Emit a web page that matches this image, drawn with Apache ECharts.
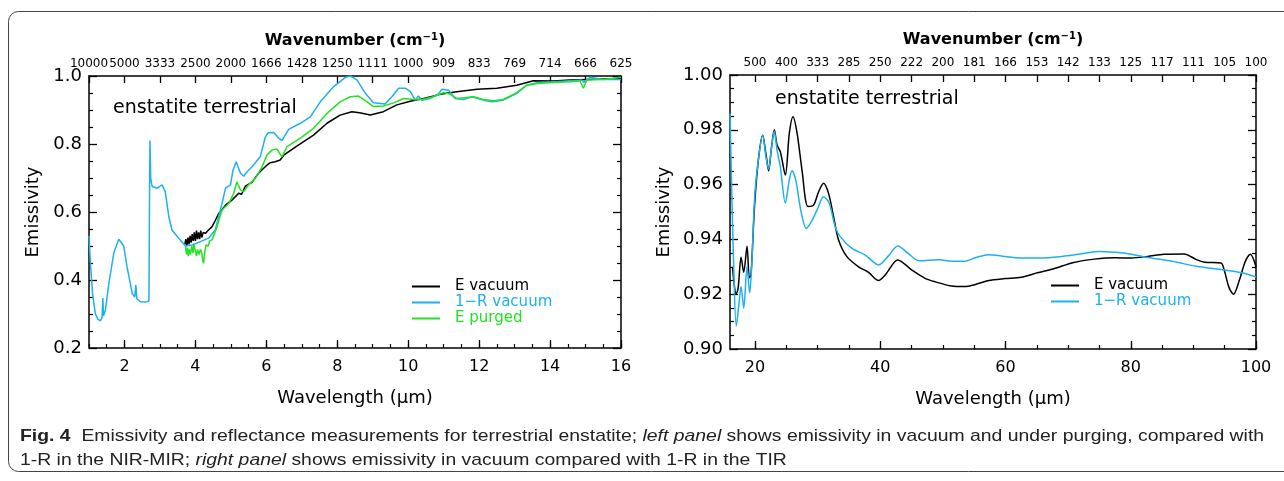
<!DOCTYPE html>
<html>
<head>
<meta charset="utf-8">
<script src="https://cdn.jsdelivr.net/npm/echarts@6/dist/echarts.min.js"></script>
<style>
  html, body { margin: 0; padding: 0; background: #fff; }
  #chart { width: 1284px; height: 481px; }
</style>
</head>
<body>
<div id="chart"></div>
<script>
  // left panel: NIR-MIR, wavelength (um) vs emissivity
  var leftVacuumE = [
    [3.70,0.505],[3.73,0.52],[3.76,0.50],[3.79,0.525],[3.82,0.505],[3.85,0.53],[3.88,0.51],[3.91,0.535],
    [3.94,0.515],[3.97,0.54],[4.00,0.515],[4.03,0.545],[4.06,0.52],[4.09,0.54],[4.12,0.52],[4.15,0.545],
    [4.18,0.525],[4.22,0.54],[4.28,0.537],[4.35,0.545],[4.47,0.557],[4.56,0.575],[4.66,0.596],[4.85,0.62],
    [5.03,0.635],[5.22,0.655],[5.30,0.652],[5.41,0.676],[5.60,0.688],[5.78,0.714],[6.02,0.738],[6.11,0.745],
    [6.25,0.748],[6.39,0.753],[6.49,0.767],[6.86,0.794],[7.33,0.826],[7.71,0.861],[8.08,0.885],[8.41,0.895],
    [8.63,0.892],[8.93,0.885],[9.30,0.895],[9.68,0.915],[10.06,0.926],[10.43,0.934],[10.90,0.946],[11.37,0.954],
    [11.94,0.961],[12.50,0.964],[13.06,0.973],[13.53,0.986],[14.09,0.985],[14.56,0.988],[15.03,0.99],[16.0,0.993]
  ];
  var leftVacuumR = [
    [1.00,0.53],[1.04,0.45],[1.10,0.36],[1.18,0.30],[1.25,0.285],[1.32,0.28],[1.37,0.29],[1.39,0.347],
    [1.41,0.295],[1.46,0.31],[1.56,0.39],[1.70,0.48],[1.84,0.52],[1.98,0.50],[2.07,0.44],[2.22,0.36],
    [2.29,0.35],[2.32,0.385],[2.35,0.345],[2.45,0.336],[2.60,0.335],[2.69,0.338],[2.71,0.70],[2.72,0.81],
    [2.74,0.70],[2.78,0.675],[2.92,0.67],[3.06,0.68],[3.15,0.66],[3.25,0.586],[3.34,0.547],[3.53,0.523],
    [3.72,0.50],[3.91,0.503],[4.14,0.513],[4.37,0.523],[4.56,0.547],[4.75,0.625],[4.85,0.67],[4.99,0.68],
    [5.06,0.723],[5.15,0.748],[5.27,0.714],[5.36,0.705],[5.47,0.72],[5.60,0.733],[5.83,0.763],[5.97,0.82],
    [6.05,0.833],[6.21,0.834],[6.35,0.817],[6.44,0.81],[6.63,0.843],[6.96,0.861],[7.24,0.88],[7.52,0.924],
    [7.90,0.969],[8.23,0.996],[8.37,1.0],[8.56,0.988],[8.79,0.949],[9.02,0.921],[9.35,0.918],[9.54,0.939],
    [9.73,0.964],[9.92,0.964],[10.06,0.954],[10.20,0.929],[10.29,0.941],[10.38,0.929],[10.62,0.934],[10.85,0.947],
    [10.95,0.961],[11.14,0.958],[11.32,0.934],[11.56,0.931],[11.79,0.939],[12.12,0.929],[12.36,0.924],[12.68,0.929],
    [13.06,0.949],[13.34,0.973],[13.63,0.98],[14.09,0.983],[14.56,0.986],[14.89,0.988],[14.95,0.982],[15.13,0.996],
    [15.50,0.99],[16.0,0.99]
  ];
  var leftPurgedE = [
    [3.72,0.50],[3.75,0.475],[3.78,0.495],[3.80,0.47],[3.83,0.49],[3.86,0.475],[3.90,0.50],[3.93,0.48],
    [3.96,0.505],[4.00,0.485],[4.03,0.47],[4.06,0.49],[4.10,0.475],[4.14,0.49],[4.18,0.48],[4.21,0.455],
    [4.23,0.449],[4.26,0.48],[4.30,0.503],[4.36,0.50],[4.40,0.515],[4.47,0.518],[4.61,0.557],[4.75,0.606],
    [4.94,0.625],[5.08,0.655],[5.17,0.689],[5.27,0.665],[5.36,0.66],[5.50,0.68],[5.69,0.699],[5.88,0.733],
    [6.02,0.768],[6.16,0.782],[6.30,0.785],[6.44,0.762],[6.58,0.792],[6.96,0.817],[7.33,0.846],[7.71,0.89],
    [8.08,0.924],[8.37,0.939],[8.60,0.941],[8.84,0.924],[9.02,0.91],[9.30,0.912],[9.59,0.921],[9.87,0.934],
    [10.15,0.931],[10.38,0.931],[10.71,0.939],[11.00,0.951],[11.18,0.947],[11.37,0.934],[11.65,0.937],[11.84,0.939],
    [12.12,0.931],[12.40,0.927],[12.68,0.931],[13.06,0.951],[13.34,0.973],[13.63,0.978],[14.09,0.981],[14.56,0.983],
    [14.84,0.986],[14.94,0.964],[15.03,0.988],[15.50,0.99],[16.0,0.996]
  ];

  // right panel: TIR
  var rightVacuumE = [
    [16.4,0.930],[16.6,0.925],[16.97,0.920],[17.29,0.922],[17.77,0.9335],[18.19,0.928],[18.72,0.9375],[19.09,0.926],
    [19.35,0.927],[19.94,0.953],[20.58,0.970],[21.22,0.978],[21.75,0.971],[22.17,0.965],[22.6,0.973],[23.08,0.980],
    [23.51,0.9745],[24.04,0.972],[24.84,0.9635],[25.47,0.9787],[26.06,0.9848],[26.70,0.979],[27.5,0.9653],[28.45,0.952],
    [29.35,0.9525],[30.15,0.9574],[30.94,0.9605],[31.74,0.9568],[32.54,0.9483],[33.34,0.9398],[34.67,0.9337],[36.53,0.930],
    [38.12,0.928],[39.72,0.925],[40.78,0.927],[42.8,0.9325],[45.04,0.9288],[47.16,0.9258],[48.8,0.9245],[51.4,0.923],
    [53.4,0.9228],[55.3,0.9236],[57.3,0.925],[59.9,0.9257],[62.5,0.9262],[65.1,0.9278],[67.7,0.9293],[70.9,0.9316],
    [74.2,0.9328],[77.5,0.9333],[80.1,0.9332],[82.7,0.9338],[85.3,0.9346],[88.5,0.9347],[90.5,0.9326],[91.8,0.9317],
    [94.4,0.9314],[94.9,0.929],[95.7,0.9224],[96.4,0.920],[97.3,0.9248],[98.3,0.932],[99.1,0.9346],[100,0.930]
  ];
  var rightVacuumR = [
    [16.0,0.986],[16.2,0.9653],[16.6,0.929],[17.0,0.9084],[17.38,0.9154],[17.77,0.9227],[18.19,0.9149],[18.72,0.930],
    [19.14,0.9205],[19.5,0.932],[19.94,0.9556],[20.58,0.970],[21.22,0.978],[21.75,0.970],[22.17,0.9656],[22.6,0.973],
    [23.08,0.9795],[23.51,0.9726],[24.04,0.9665],[24.84,0.9532],[25.47,0.9617],[25.9,0.9651],[26.5,0.9617],[27.3,0.9507],
    [28.19,0.944],[28.99,0.9465],[29.9,0.9507],[30.94,0.9556],[31.85,0.9532],[32.8,0.9446],[33.6,0.941],[35.47,0.9367],
    [37.6,0.9343],[39.72,0.9307],[41.3,0.934],[42.8,0.9376],[44.5,0.9348],[46.2,0.9322],[49.4,0.9326],[51.4,0.932],
    [53.4,0.932],[55.3,0.9334],[57.3,0.9344],[59.9,0.9338],[62.5,0.9332],[65.7,0.9332],[69.0,0.9338],[72.3,0.9348],
    [74.9,0.9356],[77.5,0.9353],[80.1,0.9346],[82.7,0.9334],[86.6,0.932],[90.5,0.9302],[94.4,0.929],[97.7,0.9278],
    [100,0.9263]
  ];

  // tick positions / labels
  var leftBottomTicks = [2, 4, 6, 8, 10, 12, 14, 16];
  var leftTopTicks = [1, 2, 3, 4, 5, 6, 7, 8, 9, 10, 11, 12, 13, 14, 15, 16];
  var leftTopLabels = ['10000', '5000', '3333', '2500', '2000', '1666', '1428', '1250', '1111', '1000', '909', '833', '769', '714', '666', '625'];
  var rightBottomTicks = [20, 40, 60, 80, 100];
  var rightMinorTicks = [20, 25, 30, 35, 40, 45, 50, 55, 60, 65, 70, 75, 80, 85, 90, 95, 100];
  var rightTopLabels = ['500', '400', '333', '285', '250', '222', '200', '181', '166', '153', '142', '133', '125', '117', '111', '105', '100'];

  var FONT = 'DejaVu Sans';
  var CAPTION_FONT = 'Liberation Sans';
  var BLUE = '#1db1ef', GREEN = '#22e322', BLACK = '#000000';

  var line = { lineStyle: { color: '#000', width: 1.5 } };

  function bottomAxis(grid, min, max, ticks) {
    return {
      type: 'value', gridIndex: grid, position: 'bottom', min: min, max: max,
      axisLine: line,
      axisTick: { inside: true, length: 8, customValues: ticks, lineStyle: { color: '#000', width: 1.3 } },
      axisLabel: { customValues: ticks, color: '#000', fontSize: 16, fontFamily: FONT, margin: 11 },
      splitLine: { show: false },
      name: 'Wavelength (\u03bcm)', nameLocation: 'middle', nameGap: 41,
      nameTextStyle: { color: '#000', fontSize: 18, fontFamily: FONT }
    };
  }
  function minorAxis(grid, min, max, opt) {
    var a = {
      type: 'value', gridIndex: grid, position: 'bottom', min: min, max: max,
      axisLine: { show: false },
      axisTick: { inside: true, length: 4, lineStyle: { color: '#000', width: 1.2 } },
      axisLabel: { show: false }, splitLine: { show: false }
    };
    for (var k in opt) a[k] = opt[k];
    return a;
  }
  function topAxis(grid, min, max, ticks, labels) {
    return {
      type: 'value', gridIndex: grid, position: 'top', min: min, max: max,
      axisLine: line,
      axisTick: { inside: true, length: 7, customValues: ticks, lineStyle: { color: '#000', width: 1.3 } },
      axisLabel: {
        customValues: ticks, color: '#000', fontSize: 12, fontFamily: FONT, margin: 6,
        formatter: function(v) { return labels[ticks.indexOf(Math.round(v))]; }
      },
      splitLine: { show: false },
      name: 'Wavenumber (cm{sup|\u22121})', nameLocation: 'middle', nameGap: 27,
      nameTextStyle: {
        color: '#000', fontSize: 16, fontFamily: FONT, fontWeight: 'bold',
        rich: { sup: { fontSize: 10, fontWeight: 'bold', fontFamily: FONT, verticalAlign: 'top', padding: [0, 0, 7, 0] } }
      }
    };
  }
  function yAxis(grid, pos, min, max, interval, digits, gap) {
    return {
      type: 'value', gridIndex: grid, position: pos, min: min, max: max, interval: interval,
      axisLine: line,
      axisTick: { inside: true, length: 8, lineStyle: { color: '#000', width: 1.3 } },
      minorTick: { show: true, splitNumber: 4, length: 4, lineStyle: { color: '#000', width: 1.2 } },
      axisLabel: {
        show: pos === 'left', color: '#000', fontSize: 18, fontFamily: FONT, margin: 7,
        formatter: function(v) { return v.toFixed(digits); }
      },
      splitLine: { show: false },
      name: pos === 'left' ? 'Emissivity' : '', nameLocation: 'middle', nameRotate: 90, nameGap: gap,
      nameTextStyle: { color: '#000', fontSize: 18, fontFamily: FONT }
    };
  }
  function legend(left, top, names) {
    return {
      orient: 'vertical', left: left, top: top, padding: 0, icon: 'rect', itemWidth: 28, itemHeight: 2, itemGap: -7,
      selectedMode: false,
      textStyle: { fontSize: 15, fontFamily: FONT, lineHeight: 15, padding: [0, 0, 8, 10] },
      data: names
    };
  }
  function series(name, data, color, xi, yi, smooth) {
    return {
      name: name, type: 'line', data: data, xAxisIndex: xi, yAxisIndex: yi,
      showSymbol: false, smooth: smooth, color: color,
      lineStyle: { color: color, width: 1.5 }, animation: false
    };
  }

  var option = {
    animation: false,
    backgroundColor: '#fff',
    grid: [
      { left: 89, top: 76, width: 532, height: 272, outerBoundsMode: 'none' },
      { left: 730, top: 75, width: 526, height: 274, outerBoundsMode: 'none' }
    ],
    xAxis: [
      bottomAxis(0, 1, 16, leftBottomTicks),
      minorAxis(0, 1, 16, { interval: 0.5 }),
      topAxis(0, 1, 16, leftTopTicks, leftTopLabels),
      bottomAxis(1, 16, 100, rightBottomTicks),
      minorAxis(1, 16, 100, { axisTick: { inside: true, length: 4, customValues: rightMinorTicks, lineStyle: { color: '#000', width: 1.2 } } }),
      topAxis(1, 16, 100, rightMinorTicks, rightTopLabels)
    ],
    yAxis: [
      yAxis(0, 'left', 0.2, 1.0, 0.2, 1, 47),
      yAxis(0, 'right', 0.2, 1.0, 0.2, 1, 0),
      yAxis(1, 'left', 0.9, 1.0, 0.02, 2, 57),
      yAxis(1, 'right', 0.9, 1.0, 0.02, 2, 0)
    ],
    legend: [
      legend(412, 275, [
        { name: 'E vacuum', textStyle: { color: BLACK } },
        { name: '1\u2212R vacuum', textStyle: { color: BLUE } },
        { name: 'E purged', textStyle: { color: GREEN } }
      ]),
      legend(1051, 274, [
        { name: 'E vacuum', textStyle: { color: BLACK } },
        { name: '1\u2212R vacuum', textStyle: { color: BLUE } }
      ])
    ],
    series: [
      series('E vacuum', leftVacuumE, BLACK, 0, 0, false),
      series('1\u2212R vacuum', leftVacuumR, BLUE, 0, 0, false),
      series('E purged', leftPurgedE, GREEN, 0, 0, false),
      series('E vacuum', rightVacuumE, BLACK, 3, 2, 0.3),
      series('1\u2212R vacuum', rightVacuumR, BLUE, 3, 2, 0.3)
    ],
    graphic: [
      { type: 'rect', shape: { x: 8.5, y: 11.5, width: 1300, height: 460, r: 10 }, style: { fill: 'none', stroke: '#444', lineWidth: 1 }, silent: true },
      { type: 'text', left: 113, top: 99, style: { text: 'enstatite terrestrial', fontSize: 19, fontFamily: FONT, fill: '#000' } },
      { type: 'text', left: 775, top: 90, style: { text: 'enstatite terrestrial', fontSize: 19, fontFamily: FONT, fill: '#000' } },
      { type: 'text', left: 20, top: 428, scaleX: 1.14, style: {
        text: '{b|Fig. 4}  Emissivity and reflectance measurements for terrestrial enstatite; {i|left panel} shows emissivity in vacuum and under purging, compared with',
        fontSize: 17, fontFamily: CAPTION_FONT, fill: '#222',
        rich: { b: { fontWeight: 'bold', fontSize: 17, fontFamily: CAPTION_FONT, fill: '#222' }, i: { fontStyle: 'italic', fontSize: 17, fontFamily: CAPTION_FONT, fill: '#222' } }
      } },
      { type: 'text', left: 20, top: 452, scaleX: 1.14, style: {
        text: '1-R in the NIR-MIR; {i|right panel} shows emissivity in vacuum compared with 1-R in the TIR',
        fontSize: 17, fontFamily: CAPTION_FONT, fill: '#222',
        rich: { i: { fontStyle: 'italic', fontSize: 17, fontFamily: CAPTION_FONT, fill: '#222' } }
      } }
    ]
  };

  var chart = echarts.init(document.getElementById('chart'));
  chart.setOption(option);
</script>
</body>
</html>
